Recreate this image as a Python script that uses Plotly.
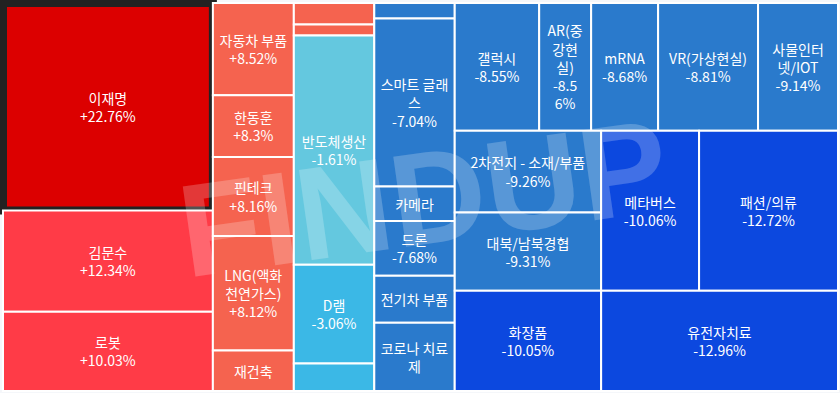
import plotly.graph_objects as go

# ---- data ----
labels = ["이재명", "김문수", "로봇", "자동차 부품", "한동훈", "핀테크", "LNG(액화천연가스)", "재건축",
          "소형1", "소형2", "반도체생산", "D램", "소형3", "소형4", "스마트 글래스", "카메라", "드론",
          "전기차 부품", "코로나 치료제", "갤럭시", "AR(증강현실)", "mRNA", "VR(가상현실)", "사물인터넷/IOT",
          "2차전지 - 소재/부품", "대북/남북경협", "화장품", "메타버스", "패션/의류", "유전자치료"]
changes = [22.76, 12.34, 10.03, 8.52, 8.3, 8.16, 8.12, 8.05,
           7.9, 7.6, -1.61, -3.06, -4.2, -6.5, -7.04, -7.3, -7.68,
           -7.9, -8.3, -8.55, -8.56, -8.68, -8.81, -9.14,
           -9.26, -9.31, -10.05, -10.06, -12.72, -12.96]
weights = [43680, 21315, 16695, 7493, 5022, 6399, 9315, 3281,
           1731, 886, 18515, 7970, 2214, 1248, 13564, 2777, 4428,
           3784, 5514, 10816, 6656, 8576, 12800, 10240,
           12013, 11500, 14723, 15729, 22310, 23819]
# label as it wraps inside its cell ("" = no text shown)
wrapped = ["이재명", "김문수", "로봇", "자동차 부품", "한동훈", "핀테크", "LNG(액화<br>천연가스)", "재건축",
           "", "", "반도체생산", "D램", "", "", "스마트 글래<br>스", "카메라", "드론",
           "전기차 부품", "코로나 치료<br>제", "갤럭시", "AR(중<br>강현<br>실)", "mRNA", "VR(가상현실)", "사물인터<br>넷/IOT",
           "2차전지 - 소재/부품", "대북/남북경협", "화장품", "메타버스", "패션/의류", "유전자치료"]
show_pct = [1, 1, 1, 1, 1, 1, 1, 0,
            0, 0, 1, 1, 0, 0, 1, 0, 1,
            0, 0, 1, 1, 1, 1, 1,
            1, 1, 1, 1, 1, 1]
pct_wrap_at = {20: 4}   # AR cell breaks its percentage after 4 chars
selected = 0            # highlighted cell (dark frame)


def color_for(v):
    if v >= 20:
        return "#dc0000"
    if v >= 10:
        return "#ff3b47"
    if v > 0:
        return "#f5634f"
    if v > -2:
        return "#64c8df"
    if v > -5:
        return "#3bb8e6"
    if v > -10:
        return "#2a7acc"
    return "#0c48df"


texts = []
for i, (w, v, s) in enumerate(zip(wrapped, changes, show_pct)):
    if not w:
        texts.append("")
        continue
    if s:
        p = f"{v:+g}%"
        if i in pct_wrap_at:
            k = pct_wrap_at[i]
            p = p[:k] + "<br>" + p[k:]
        texts.append(w + "<br>" + p)
    else:
        texts.append(w)

colors = [color_for(v) for v in changes]
line_colors = ["#222222" if i == selected else "#ffffff" for i in range(len(labels))]
line_widths = [8 if i == selected else 2 for i in range(len(labels))]

fig = go.Figure(go.Treemap(
    ids=[f"id{i}" for i in range(len(labels))],
    labels=labels,
    parents=[""] * len(labels),
    values=weights,
    sort=False,
    tiling=dict(packing="squarify", squarifyratio=1.618034, pad=0),
    marker=dict(colors=colors, line=dict(color=line_colors, width=line_widths),
                pad=dict(t=0, l=0, r=0, b=0)),
    text=texts,
    texttemplate="%{text}",
    textposition="middle center",
    textfont=dict(family="Noto Sans CJK KR", size=14, color="white"),
    pathbar=dict(visible=False),
    hoverinfo="skip",
))

fig.add_annotation(
    text="<b>FINDUP</b>", xref="paper", yref="paper", x=0.503, y=0.497,
    showarrow=False, textangle=-8,
    font=dict(family="Liberation Sans", size=132, color="rgba(255,255,255,0.22)"),
)

fig.update_layout(
    width=840, height=393,
    margin=dict(l=3, r=2, t=3, b=2),
    paper_bgcolor="#f5f7fa",
    uniformtext=dict(minsize=14, mode="show"),
)

fig.write_html("out.html", config={"displayModeBar": False},
               post_script="document.body.style.margin='0';")
